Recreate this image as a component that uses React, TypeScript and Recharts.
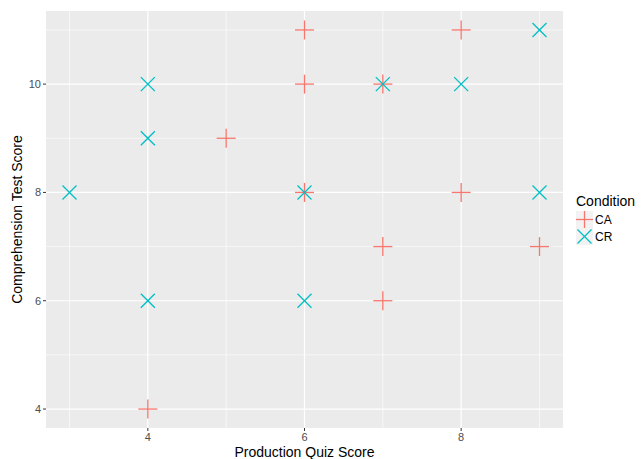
import React from 'react';
import {
  ScatterChart,
  Scatter,
  CartesianGrid,
  XAxis,
  YAxis,
  Label,
} from 'recharts';

// Production quiz score vs comprehension test score, by condition
const caQuiz = [6, 8, 6, 7, 5, 6, 8, 7, 9, 7, 4];
const caTest = [11, 11, 10, 10, 9, 8, 8, 7, 7, 6, 4];
const crQuiz = [9, 4, 7, 8, 4, 3, 6, 9, 4, 6];
const crTest = [11, 10, 10, 10, 9, 8, 8, 8, 6, 6];

const xTicks = [4, 6, 8];
const yTicks = [4, 6, 8, 10];
const xMinor = [3, 5, 7, 9];
const yMinor = [5, 7, 9, 11];

const CA_COLOR = '#F8766D';
const CR_COLOR = '#00BFC4';

const caData = caQuiz.map((x, i) => ({ quiz: x, test: caTest[i] }));
const crData = crQuiz.map((x, i) => ({ quiz: x, test: crTest[i] }));

const PlusShape = (p: any) => (
  <g>
    <line x1={p.cx - 9.5} y1={p.cy} x2={p.cx + 9.5} y2={p.cy} stroke={CA_COLOR} strokeWidth={1.3} />
    <line x1={p.cx} y1={p.cy - 9.5} x2={p.cx} y2={p.cy + 9.5} stroke={CA_COLOR} strokeWidth={1.3} />
  </g>
);

const CrossShape = (p: any) => (
  <g>
    <line x1={p.cx - 7} y1={p.cy - 7} x2={p.cx + 7} y2={p.cy + 7} stroke={CR_COLOR} strokeWidth={1.3} />
    <line x1={p.cx - 7} y1={p.cy + 7} x2={p.cx + 7} y2={p.cy - 7} stroke={CR_COLOR} strokeWidth={1.3} />
  </g>
);

const LegendBox = () => (
  <div style={{ position: 'absolute', left: 576, top: 193, fontFamily: 'Liberation Sans, Arial, sans-serif' }}>
    <div style={{ fontSize: 14, color: '#000', lineHeight: '17px' }}>Condition</div>
    <svg width={66} height={36} style={{ display: 'block' }}>
      <rect x={0} y={1} width={17} height={17} fill="#F2F2F2" />
      <line x1={0} y1={9.5} x2={17} y2={9.5} stroke={CA_COLOR} strokeWidth={1.3} />
      <line x1={8.5} y1={1} x2={8.5} y2={18} stroke={CA_COLOR} strokeWidth={1.3} />
      <text x={19} y={14} fontSize={12} fill="#000">CA</text>
      <rect x={0} y={18} width={17} height={17} fill="#F2F2F2" />
      <line x1={1.5} y1={19.5} x2={15.5} y2={33.5} stroke={CR_COLOR} strokeWidth={1.3} />
      <line x1={1.5} y1={33.5} x2={15.5} y2={19.5} stroke={CR_COLOR} strokeWidth={1.3} />
      <text x={19} y={31} fontSize={12} fill="#000">CR</text>
    </svg>
  </div>
);

const App = () => {
  return (
    <div
      style={{
        position: 'absolute',
        left: 0,
        top: 0,
        width: 642,
        height: 459,
        background: '#fff',
        fontFamily: 'Liberation Sans, Arial, sans-serif',
      }}
    >
      <ScatterChart width={642} height={459} margin={{ top: 11, right: 79, bottom: 0, left: 0 }}>
        <CartesianGrid
          fill="#EBEBEB"
          stroke="#FFFFFF"
          strokeWidth={0.6}
          verticalValues={xMinor}
          horizontalValues={yMinor}
        />
        <CartesianGrid
          stroke="#FFFFFF"
          strokeWidth={1.2}
          verticalValues={xTicks}
          horizontalValues={yTicks}
        />
        <XAxis
          type="number"
          dataKey="quiz"
          domain={[2.7, 9.3]}
          ticks={xTicks}
          allowDataOverflow
          axisLine={false}
          tickSize={3}
          tickLine={{ stroke: '#333333' }}
          tick={{ fill: '#4D4D4D', fontSize: 11 }}
          height={31}
        >
          <Label value="Production Quiz Score" position="insideBottom" offset={2} fontSize={14} fill="#000" />
        </XAxis>
        <YAxis
          type="number"
          dataKey="test"
          domain={[3.65, 11.35]}
          ticks={yTicks}
          allowDataOverflow
          axisLine={false}
          tickSize={3}
          tickLine={{ stroke: '#333333' }}
          tick={{ fill: '#4D4D4D', fontSize: 11 }}
          width={46}
        >
          <Label
            value="Comprehension Test Score"
            angle={-90}
            position="insideLeft"
            offset={17}
            fontSize={14}
            fill="#000"
            style={{ textAnchor: 'middle' }}
          />
        </YAxis>
        <Scatter name="CA" data={caData} shape={PlusShape} isAnimationActive={false} />
        <Scatter name="CR" data={crData} shape={CrossShape} isAnimationActive={false} />
      </ScatterChart>
      <LegendBox />
    </div>
  );
};

export default App;
